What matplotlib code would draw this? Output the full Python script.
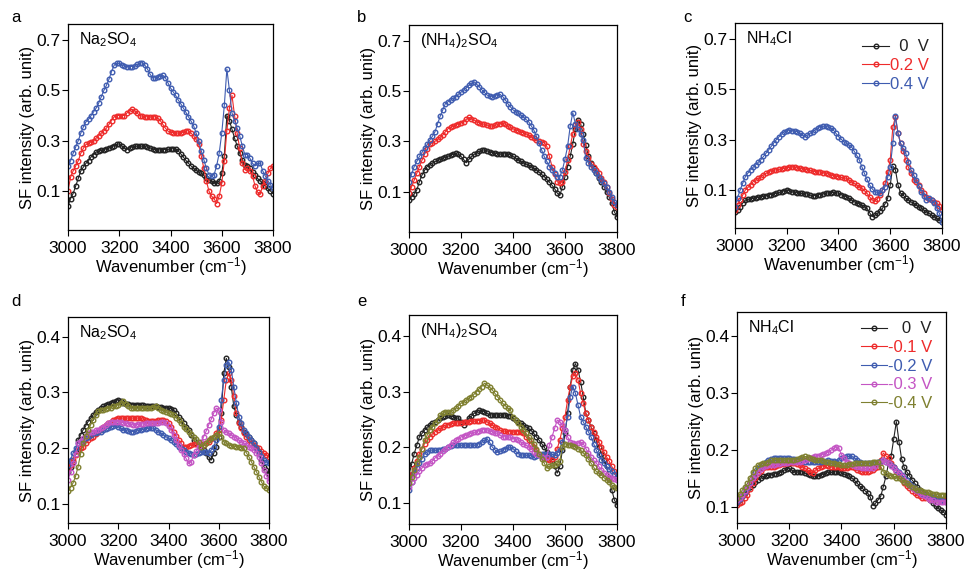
import numpy as np
import matplotlib
matplotlib.use("Agg")
import matplotlib.pyplot as plt

plt.rcParams['font.family'] = ['Liberation Sans', 'DejaVu Sans']
plt.rcParams['mathtext.fontset'] = 'custom'
plt.rcParams['mathtext.rm'] = 'Liberation Sans'
plt.rcParams['mathtext.it'] = 'Liberation Sans'

# wavenumber grid (cm-1)
wavenumber = np.arange(3000, 3801, 10)

# ---------------- panel a : Na2SO4, positive potentials ----------------
a_0V = [0.04, 0.07, 0.09, 0.12, 0.15, 0.18, 0.195, 0.21, 0.22, 0.235,
        0.245, 0.255, 0.258, 0.262, 0.265, 0.268, 0.272, 0.276, 0.28, 0.285,
        0.287, 0.28, 0.27, 0.265, 0.272, 0.275, 0.277, 0.278, 0.278, 0.278,
        0.277, 0.275, 0.272, 0.268, 0.264, 0.263, 0.263, 0.264, 0.265, 0.266,
        0.267, 0.268, 0.268, 0.26, 0.248, 0.235, 0.222, 0.21, 0.2, 0.19,
        0.182, 0.176, 0.17, 0.162, 0.152, 0.145, 0.14, 0.132, 0.13, 0.14,
        0.17, 0.24, 0.4, 0.38, 0.345, 0.31, 0.28, 0.25, 0.225, 0.205,
        0.2, 0.19, 0.175, 0.165, 0.15, 0.14, 0.13, 0.12, 0.11, 0.1,
        0.09]
a_02V = [0.10, 0.155, 0.18, 0.20, 0.22, 0.25, 0.27, 0.285, 0.29, 0.295,
         0.30, 0.31, 0.32, 0.33, 0.34, 0.35, 0.365, 0.38, 0.395, 0.40,
         0.40, 0.40, 0.40, 0.41, 0.42, 0.425, 0.42, 0.41, 0.40, 0.397,
         0.395, 0.395, 0.395, 0.395, 0.395, 0.39, 0.38, 0.365, 0.35, 0.338,
         0.335, 0.332, 0.33, 0.33, 0.33, 0.335, 0.338, 0.34, 0.33, 0.32,
         0.305, 0.285, 0.24, 0.19, 0.14, 0.10, 0.08, 0.07, 0.05, 0.08,
         0.13, 0.22, 0.34, 0.43, 0.48, 0.40, 0.33, 0.27, 0.21, 0.185,
         0.19, 0.18, 0.16, 0.12, 0.095, 0.09, 0.12, 0.14, 0.17, 0.19,
         0.20]
a_04V = [0.20, 0.22, 0.25, 0.275, 0.30, 0.33, 0.355, 0.375, 0.385, 0.40,
         0.415, 0.43, 0.45, 0.475, 0.50, 0.52, 0.545, 0.575, 0.60, 0.608,
         0.607, 0.60, 0.597, 0.595, 0.595, 0.595, 0.597, 0.603, 0.608, 0.61,
         0.60, 0.585, 0.565, 0.55, 0.55, 0.553, 0.558, 0.56, 0.55, 0.53,
         0.51, 0.495, 0.48, 0.462, 0.447, 0.43, 0.413, 0.395, 0.378, 0.36,
         0.33, 0.30, 0.26, 0.225, 0.19, 0.165, 0.16, 0.165, 0.20, 0.25,
         0.33, 0.44, 0.585, 0.50, 0.41, 0.38, 0.35, 0.32, 0.28, 0.245,
         0.245, 0.23, 0.21, 0.20, 0.21, 0.21, 0.18, 0.16, 0.14, 0.125,
         0.11]

# ---------------- panel b : (NH4)2SO4, positive potentials ----------------
b_0V = [0.067, 0.08, 0.09, 0.107, 0.14, 0.166, 0.185, 0.2, 0.207, 0.214,
        0.22, 0.224, 0.228, 0.232, 0.237, 0.241, 0.246, 0.249, 0.252, 0.248,
        0.24, 0.228, 0.215, 0.228, 0.24, 0.248, 0.255, 0.26, 0.264, 0.266,
        0.263, 0.259, 0.255, 0.253, 0.251, 0.25, 0.25, 0.25, 0.25, 0.246,
        0.24, 0.233, 0.226, 0.22, 0.215, 0.21, 0.206, 0.2, 0.193, 0.186,
        0.178, 0.169, 0.16, 0.149, 0.138, 0.126, 0.112, 0.095, 0.085, 0.12,
        0.16, 0.2, 0.24, 0.29, 0.35, 0.385, 0.37, 0.33, 0.285, 0.24,
        0.215, 0.193, 0.173, 0.155, 0.138, 0.12, 0.1, 0.078, 0.054, 0.02,
        0.0]
b_02V = [0.093, 0.12, 0.146, 0.173, 0.2, 0.225, 0.25, 0.27, 0.29, 0.295,
         0.30, 0.308, 0.317, 0.325, 0.338, 0.35, 0.355, 0.36, 0.365, 0.37,
         0.374, 0.378, 0.387, 0.395, 0.39, 0.385, 0.378, 0.374, 0.37, 0.367,
         0.365, 0.362, 0.36, 0.363, 0.367, 0.37, 0.374, 0.368, 0.36, 0.355,
         0.35, 0.346, 0.342, 0.338, 0.334, 0.33, 0.325, 0.318, 0.312, 0.305,
         0.30, 0.297, 0.295, 0.28, 0.24, 0.2, 0.17, 0.14, 0.135, 0.14,
         0.18, 0.225, 0.28, 0.33, 0.365, 0.375, 0.35, 0.29, 0.26, 0.235,
         0.21, 0.197, 0.185, 0.173, 0.155, 0.138, 0.12, 0.095, 0.07, 0.047,
         0.04]
b_04V = [0.14, 0.17, 0.2, 0.22, 0.24, 0.256, 0.272, 0.288, 0.305, 0.32,
         0.338, 0.37, 0.40, 0.425, 0.45, 0.457, 0.464, 0.471, 0.478, 0.487,
         0.495, 0.504, 0.513, 0.522, 0.53, 0.537, 0.527, 0.517, 0.505, 0.494,
         0.484, 0.481, 0.478, 0.482, 0.485, 0.487, 0.478, 0.465, 0.45, 0.437,
         0.425, 0.418, 0.411, 0.405, 0.396, 0.387, 0.378, 0.362, 0.345, 0.32,
         0.292, 0.266, 0.24, 0.22, 0.2, 0.186, 0.173, 0.16, 0.16, 0.186,
         0.23, 0.28, 0.36, 0.414, 0.37, 0.35, 0.33, 0.305, 0.232, 0.215,
         0.2, 0.187, 0.173, 0.16, 0.147, 0.133, 0.12, 0.1, 0.08, 0.06,
         0.047]

# ---------------- panel c : NH4Cl, positive potentials ----------------
c_0V = [0.014, 0.02, 0.034, 0.048, 0.06, 0.063, 0.065, 0.067, 0.069, 0.071,
        0.073, 0.075, 0.078, 0.08, 0.082, 0.085, 0.087, 0.09, 0.093, 0.097,
        0.10, 0.097, 0.093, 0.091, 0.089, 0.087, 0.086, 0.085, 0.084, 0.08,
        0.076, 0.078, 0.08, 0.082, 0.085, 0.087, 0.088, 0.089, 0.09, 0.089,
        0.087, 0.082, 0.078, 0.073, 0.067, 0.06, 0.054, 0.05, 0.045, 0.04,
        0.034, 0.027, 0.01, -0.006, 0.0, 0.007, 0.017, 0.027, 0.045, 0.067,
        0.12, 0.195, 0.18, 0.12, 0.087, 0.08, 0.067, 0.06, 0.053, 0.047,
        0.04, 0.033, 0.027, 0.02, 0.014, 0.007, 0.0, -0.006, -0.013, -0.02,
        -0.026]
c_02V = [0.02, 0.04, 0.06, 0.08, 0.10, 0.11, 0.12, 0.133, 0.14, 0.146,
         0.153, 0.16, 0.166, 0.173, 0.176, 0.178, 0.18, 0.182, 0.184, 0.186,
         0.188, 0.19, 0.193, 0.19, 0.188, 0.186, 0.184, 0.182, 0.18, 0.178,
         0.175, 0.173, 0.172, 0.171, 0.169, 0.167, 0.164, 0.16, 0.157, 0.155,
         0.153, 0.15, 0.148, 0.146, 0.14, 0.133, 0.126, 0.12, 0.113, 0.107,
         0.097, 0.087, 0.073, 0.06, 0.058, 0.065, 0.08, 0.1, 0.126, 0.17,
         0.22, 0.35, 0.39, 0.325, 0.285, 0.255, 0.22, 0.19, 0.166, 0.14,
         0.133, 0.118, 0.1, 0.087, 0.073, 0.066, 0.06, 0.053, 0.047, 0.035,
         0.02]
c_04V = [0.034, 0.07, 0.10, 0.127, 0.153, 0.167, 0.18, 0.19, 0.20, 0.21,
         0.22, 0.233, 0.246, 0.259, 0.273, 0.287, 0.30, 0.311, 0.322, 0.332,
         0.335, 0.338, 0.336, 0.334, 0.332, 0.325, 0.318, 0.312, 0.318, 0.325,
         0.332, 0.339, 0.346, 0.352, 0.353, 0.354, 0.35, 0.345, 0.338, 0.325,
         0.312, 0.302, 0.292, 0.285, 0.279, 0.272, 0.255, 0.238, 0.22, 0.193,
         0.166, 0.143, 0.12, 0.105, 0.093, 0.09, 0.087, 0.1, 0.113, 0.15,
         0.193, 0.285, 0.394, 0.325, 0.285, 0.265, 0.246, 0.21, 0.18, 0.16,
         0.14, 0.117, 0.093, 0.075, 0.06, 0.067, 0.06, 0.047, 0.027, 0.007,
         -0.026]

# ---------------- panel d : Na2SO4, negative potentials ----------------
d_0V = [0.158, 0.167, 0.176, 0.195, 0.215, 0.224, 0.233, 0.24, 0.248, 0.254,
        0.26, 0.265, 0.269, 0.272, 0.275, 0.277, 0.279, 0.281, 0.283, 0.285,
        0.287, 0.284, 0.281, 0.28, 0.279, 0.278, 0.278, 0.278, 0.278, 0.277,
        0.277, 0.276, 0.276, 0.275, 0.275, 0.275, 0.274, 0.274, 0.273, 0.273,
        0.272, 0.271, 0.269, 0.263, 0.257, 0.251, 0.245, 0.239, 0.233, 0.224,
        0.215, 0.21, 0.206, 0.201, 0.197, 0.191, 0.185, 0.179, 0.191, 0.203,
        0.221, 0.263, 0.334, 0.361, 0.346, 0.31, 0.275, 0.26, 0.248, 0.239,
        0.23, 0.226, 0.221, 0.215, 0.209, 0.2, 0.191, 0.179, 0.167, 0.161,
        0.155]
d_m01V = [0.164, 0.171, 0.179, 0.188, 0.197, 0.2, 0.203, 0.209, 0.215, 0.218,
          0.221, 0.226, 0.23, 0.235, 0.239, 0.242, 0.245, 0.248, 0.251, 0.253,
          0.254, 0.254, 0.254, 0.254, 0.254, 0.254, 0.254, 0.254, 0.254, 0.254,
          0.252, 0.25, 0.249, 0.249, 0.249, 0.249, 0.25, 0.25, 0.251, 0.249,
          0.245, 0.238, 0.23, 0.222, 0.215, 0.209, 0.203, 0.203, 0.204, 0.206,
          0.207, 0.208, 0.208, 0.207, 0.206, 0.209, 0.212, 0.217, 0.221, 0.227,
          0.233, 0.251, 0.287, 0.322, 0.334, 0.322, 0.293, 0.263, 0.245, 0.236,
          0.227, 0.221, 0.215, 0.21, 0.206, 0.203, 0.2, 0.195, 0.191, 0.188,
          0.185]
d_m02V = [0.17, 0.18, 0.191, 0.2, 0.209, 0.212, 0.215, 0.218, 0.221, 0.224,
          0.227, 0.228, 0.229, 0.23, 0.232, 0.234, 0.236, 0.238, 0.24, 0.242,
          0.239, 0.236, 0.233, 0.232, 0.231, 0.23, 0.23, 0.231, 0.232, 0.233,
          0.234, 0.235, 0.236, 0.236, 0.236, 0.233, 0.23, 0.227, 0.224, 0.221,
          0.218, 0.215, 0.212, 0.207, 0.203, 0.2, 0.197, 0.194, 0.191, 0.19,
          0.189, 0.19, 0.191, 0.193, 0.194, 0.193, 0.192, 0.197, 0.203, 0.215,
          0.239, 0.287, 0.322, 0.349, 0.355, 0.34, 0.31, 0.281, 0.257, 0.245,
          0.233, 0.227, 0.221, 0.215, 0.209, 0.201, 0.194, 0.186, 0.179, 0.176,
          0.173]
d_m03V = [0.144, 0.158, 0.173, 0.19, 0.209, 0.214, 0.218, 0.223, 0.227, 0.229,
          0.23, 0.232, 0.233, 0.236, 0.239, 0.242, 0.245, 0.247, 0.248, 0.248,
          0.248, 0.247, 0.246, 0.245, 0.244, 0.243, 0.242, 0.242, 0.243, 0.243,
          0.244, 0.245, 0.245, 0.245, 0.245, 0.245, 0.246, 0.248, 0.247, 0.245,
          0.24, 0.233, 0.224, 0.215, 0.206, 0.197, 0.19, 0.182, 0.173, 0.176,
          0.188, 0.195, 0.203, 0.212, 0.221, 0.231, 0.242, 0.252, 0.263, 0.272,
          0.269, 0.248, 0.233, 0.23, 0.227, 0.224, 0.221, 0.218, 0.215, 0.212,
          0.209, 0.206, 0.203, 0.2, 0.197, 0.191, 0.185, 0.173, 0.161, 0.151,
          0.141]
d_m04V = [0.123, 0.13, 0.138, 0.15, 0.167, 0.19, 0.209, 0.222, 0.233, 0.242,
          0.251, 0.259, 0.266, 0.268, 0.269, 0.27, 0.272, 0.273, 0.275, 0.276,
          0.278, 0.281, 0.284, 0.28, 0.275, 0.273, 0.272, 0.272, 0.272, 0.272,
          0.272, 0.272, 0.272, 0.273, 0.274, 0.275, 0.272, 0.269, 0.267, 0.265,
          0.263, 0.261, 0.26, 0.255, 0.251, 0.245, 0.239, 0.234, 0.23, 0.225,
          0.221, 0.216, 0.212, 0.203, 0.206, 0.21, 0.215, 0.218, 0.221, 0.224,
          0.227, 0.221, 0.212, 0.209, 0.206, 0.205, 0.204, 0.203, 0.203, 0.201,
          0.2, 0.192, 0.185, 0.176, 0.167, 0.158, 0.149, 0.14, 0.132, 0.129,
          0.126]

# ---------------- panel e : (NH4)2SO4, negative potentials ----------------
e_0V = [0.151, 0.17, 0.189, 0.204, 0.219, 0.225, 0.231, 0.236, 0.24, 0.243,
        0.246, 0.249, 0.252, 0.255, 0.257, 0.258, 0.256, 0.255, 0.253, 0.252,
        0.246, 0.24, 0.246, 0.252, 0.256, 0.261, 0.264, 0.267, 0.266, 0.264,
        0.261, 0.258, 0.258, 0.258, 0.258, 0.258, 0.258, 0.258, 0.257, 0.256,
        0.252, 0.249, 0.246, 0.243, 0.24, 0.237, 0.234, 0.23, 0.225, 0.219,
        0.213, 0.207, 0.201, 0.192, 0.183, 0.175, 0.166, 0.154, 0.166, 0.195,
        0.225, 0.261, 0.309, 0.339, 0.35, 0.339, 0.318, 0.291, 0.261, 0.249,
        0.237, 0.225, 0.213, 0.201, 0.189, 0.178, 0.166, 0.145, 0.124, 0.106,
        0.097]
e_m01V = [0.142, 0.152, 0.163, 0.176, 0.189, 0.198, 0.207, 0.213, 0.219, 0.224,
          0.228, 0.231, 0.234, 0.237, 0.24, 0.241, 0.242, 0.243, 0.243, 0.244,
          0.244, 0.245, 0.245, 0.246, 0.247, 0.247, 0.248, 0.248, 0.249, 0.249,
          0.246, 0.243, 0.24, 0.237, 0.234, 0.231, 0.229, 0.229, 0.228, 0.228,
          0.228, 0.228, 0.228, 0.227, 0.225, 0.219, 0.213, 0.207, 0.201, 0.195,
          0.189, 0.185, 0.181, 0.179, 0.178, 0.18, 0.183, 0.198, 0.213, 0.234,
          0.255, 0.285, 0.309, 0.327, 0.333, 0.321, 0.297, 0.279, 0.261, 0.249,
          0.237, 0.228, 0.219, 0.21, 0.201, 0.192, 0.183, 0.175, 0.166, 0.157,
          0.148]
e_m02V = [0.124, 0.139, 0.154, 0.163, 0.172, 0.18, 0.189, 0.192, 0.195, 0.195,
          0.195, 0.195, 0.196, 0.197, 0.198, 0.2, 0.202, 0.204, 0.204, 0.204,
          0.204, 0.204, 0.204, 0.204, 0.204, 0.204, 0.205, 0.207, 0.21, 0.213,
          0.216, 0.209, 0.201, 0.196, 0.192, 0.193, 0.195, 0.198, 0.201, 0.2,
          0.198, 0.193, 0.189, 0.187, 0.186, 0.186, 0.186, 0.185, 0.183, 0.185,
          0.186, 0.188, 0.189, 0.189, 0.189, 0.188, 0.186, 0.19, 0.195, 0.21,
          0.231, 0.255, 0.291, 0.309, 0.297, 0.276, 0.255, 0.246, 0.237, 0.228,
          0.219, 0.207, 0.195, 0.186, 0.178, 0.172, 0.166, 0.161, 0.157, 0.152,
          0.148]
e_m03V = [0.13, 0.138, 0.145, 0.151, 0.157, 0.163, 0.169, 0.171, 0.172, 0.176,
          0.181, 0.185, 0.189, 0.193, 0.198, 0.201, 0.204, 0.209, 0.213, 0.216,
          0.219, 0.221, 0.222, 0.224, 0.225, 0.227, 0.228, 0.23, 0.231, 0.232,
          0.232, 0.23, 0.228, 0.226, 0.225, 0.222, 0.219, 0.219, 0.219, 0.218,
          0.216, 0.215, 0.213, 0.21, 0.207, 0.204, 0.201, 0.197, 0.192, 0.189,
          0.186, 0.183, 0.18, 0.183, 0.204, 0.219, 0.234, 0.249, 0.246, 0.24,
          0.231, 0.219, 0.21, 0.208, 0.206, 0.208, 0.21, 0.207, 0.198, 0.19,
          0.183, 0.177, 0.172, 0.166, 0.16, 0.155, 0.151, 0.148, 0.145, 0.143,
          0.142]
e_m04V = [0.136, 0.148, 0.16, 0.172, 0.183, 0.198, 0.213, 0.222, 0.231, 0.237,
          0.243, 0.25, 0.258, 0.261, 0.264, 0.264, 0.264, 0.267, 0.27, 0.275,
          0.279, 0.282, 0.285, 0.288, 0.291, 0.295, 0.3, 0.305, 0.309, 0.315,
          0.312, 0.308, 0.303, 0.297, 0.291, 0.285, 0.279, 0.275, 0.27, 0.267,
          0.255, 0.249, 0.243, 0.237, 0.231, 0.225, 0.219, 0.213, 0.207, 0.198,
          0.189, 0.18, 0.172, 0.163, 0.166, 0.168, 0.169, 0.172, 0.175, 0.201,
          0.207, 0.205, 0.204, 0.203, 0.201, 0.198, 0.195, 0.19, 0.186, 0.179,
          0.172, 0.165, 0.157, 0.154, 0.151, 0.146, 0.142, 0.138, 0.133, 0.13,
          0.127]

# ---------------- panel f : NH4Cl, negative potentials ----------------
f_0V = [0.107, 0.113, 0.119, 0.125, 0.13, 0.135, 0.139, 0.144, 0.148, 0.151,
        0.154, 0.155, 0.156, 0.157, 0.158, 0.159, 0.16, 0.162, 0.165, 0.167,
        0.168, 0.165, 0.162, 0.162, 0.162, 0.162, 0.16, 0.158, 0.157, 0.155,
        0.154, 0.155, 0.157, 0.158, 0.16, 0.161, 0.161, 0.162, 0.162, 0.161,
        0.16, 0.158, 0.157, 0.154, 0.151, 0.147, 0.142, 0.137, 0.133, 0.129,
        0.125, 0.118, 0.103, 0.107, 0.113, 0.119, 0.136, 0.154, 0.177, 0.19,
        0.22, 0.25, 0.215, 0.185, 0.17, 0.162, 0.155, 0.148, 0.142, 0.136,
        0.131, 0.127, 0.123, 0.119, 0.113, 0.107, 0.102, 0.098, 0.095, 0.092,
        0.087]
f_m01V = [0.104, 0.107, 0.11, 0.116, 0.122, 0.132, 0.142, 0.151, 0.16, 0.164,
          0.168, 0.17, 0.171, 0.171, 0.171, 0.173, 0.174, 0.175, 0.176, 0.177,
          0.177, 0.177, 0.177, 0.176, 0.174, 0.171, 0.168, 0.165, 0.162, 0.16,
          0.165, 0.168, 0.171, 0.173, 0.174, 0.173, 0.171, 0.171, 0.171, 0.17,
          0.168, 0.168, 0.168, 0.17, 0.171, 0.168, 0.165, 0.164, 0.162, 0.162,
          0.162, 0.164, 0.165, 0.168, 0.171, 0.183, 0.195, 0.19, 0.186, 0.178,
          0.171, 0.164, 0.157, 0.15, 0.142, 0.137, 0.133, 0.129, 0.125, 0.122,
          0.119, 0.117, 0.116, 0.116, 0.116, 0.115, 0.114, 0.114, 0.113, 0.113,
          0.113]
f_m02V = [0.11, 0.115, 0.119, 0.126, 0.133, 0.144, 0.154, 0.161, 0.168, 0.171,
          0.174, 0.179, 0.183, 0.185, 0.186, 0.186, 0.186, 0.186, 0.186, 0.186,
          0.186, 0.185, 0.184, 0.183, 0.182, 0.181, 0.18, 0.18, 0.18, 0.18,
          0.18, 0.18, 0.18, 0.181, 0.181, 0.182, 0.181, 0.181, 0.18, 0.183,
          0.186, 0.188, 0.189, 0.189, 0.189, 0.186, 0.183, 0.18, 0.177, 0.177,
          0.177, 0.177, 0.177, 0.178, 0.18, 0.181, 0.183, 0.18, 0.177, 0.174,
          0.171, 0.166, 0.162, 0.157, 0.151, 0.147, 0.142, 0.138, 0.133, 0.13,
          0.127, 0.124, 0.122, 0.12, 0.119, 0.118, 0.116, 0.114, 0.113, 0.111,
          0.11]
f_m03V = [0.113, 0.117, 0.122, 0.129, 0.136, 0.143, 0.151, 0.157, 0.162, 0.167,
          0.171, 0.173, 0.174, 0.174, 0.174, 0.175, 0.176, 0.177, 0.177, 0.178,
          0.18, 0.18, 0.18, 0.18, 0.18, 0.181, 0.183, 0.185, 0.186, 0.188,
          0.189, 0.19, 0.192, 0.193, 0.195, 0.197, 0.2, 0.203, 0.206, 0.203,
          0.192, 0.186, 0.18, 0.177, 0.174, 0.172, 0.171, 0.17, 0.168, 0.168,
          0.168, 0.168, 0.168, 0.172, 0.177, 0.18, 0.183, 0.18, 0.177, 0.172,
          0.168, 0.164, 0.16, 0.154, 0.148, 0.143, 0.139, 0.134, 0.13, 0.128,
          0.125, 0.122, 0.119, 0.116, 0.113, 0.112, 0.11, 0.11, 0.11, 0.11,
          0.11]
f_m04V = [0.116, 0.123, 0.13, 0.136, 0.142, 0.152, 0.162, 0.168, 0.174, 0.176,
          0.177, 0.178, 0.18, 0.182, 0.183, 0.183, 0.183, 0.183, 0.183, 0.183,
          0.183, 0.183, 0.183, 0.184, 0.186, 0.188, 0.189, 0.188, 0.186, 0.184,
          0.183, 0.183, 0.182, 0.181, 0.18, 0.179, 0.178, 0.177, 0.176, 0.175,
          0.174, 0.174, 0.174, 0.175, 0.176, 0.177, 0.177, 0.178, 0.178, 0.178,
          0.178, 0.178, 0.179, 0.18, 0.18, 0.171, 0.162, 0.16, 0.157, 0.155,
          0.154, 0.152, 0.151, 0.148, 0.145, 0.142, 0.139, 0.136, 0.133, 0.131,
          0.13, 0.128, 0.127, 0.126, 0.125, 0.124, 0.123, 0.122, 0.122, 0.122,
          0.122]

salts = ['Na$_2$SO$_4$', '(NH$_4$)$_2$SO$_4$', 'NH$_4$Cl']
panel_letters = ['a', 'b', 'c', 'd', 'e', 'f']
pos_labels = ['  0  V', '0.2 V', '0.4 V']
neg_labels = ['   0  V', '-0.1 V', '-0.2 V', '-0.3 V', '-0.4 V']
pos_colors = ['#222222', '#ee2b2b', '#3f5cb0']
neg_colors = ['#222222', '#ee2b2b', '#3f5cb0', '#c455c4', '#7f8030']

top_series = [[a_0V, a_02V, a_04V], [b_0V, b_02V, b_04V], [c_0V, c_02V, c_04V]]
bot_series = [[d_0V, d_m01V, d_m02V, d_m03V, d_m04V],
              [e_0V, e_m01V, e_m02V, e_m03V, e_m04V],
              [f_0V, f_m01V, f_m02V, f_m03V, f_m04V]]

W, H = 969, 573
fig = plt.figure(figsize=(W / 100, H / 100), dpi=100)

# axes boxes in pixels: left, right, top, bottom
boxes = [(68, 273, 24, 230), (409, 617, 25, 232), (735, 942, 23, 228),
         (68, 269, 317, 523), (409, 617, 315, 524), (737, 946, 312, 523)]
ylims = [(-0.055, 0.764), (-0.06, 0.762), (-0.051, 0.763),
         (0.0665, 0.435), (0.063, 0.437), (0.0725, 0.442)]
letter_pos = [(16, 18), (362, 18), (687, 18), (16, 302), (362, 302), (683, 302)]
legend_anchor = {2: (0.935, 0.92), 5: (0.935, 0.955)}

tick_fs = 12.5
lab_fs = 12
for i in range(6):
    l, r, t, b = boxes[i]
    ax = fig.add_axes([l / W, 1 - b / H, (r - l) / W, (b - t) / H])
    top = i < 3
    series = top_series[i] if top else bot_series[i - 3]
    colors = pos_colors if top else neg_colors
    labels = pos_labels if top else neg_labels
    for vals, col, lab in zip(series, colors, labels):
        ax.plot(wavenumber, vals, '-', color=col, lw=0.8, marker='o',
                ms=3.3, mfc='none', mec=col, mew=1.0, label=lab)
    ax.set_xlim(3000, 3800)
    ax.set_ylim(*ylims[i])
    ax.set_xticks([3000, 3200, 3400, 3600, 3800])
    if top:
        ax.set_yticks([0.1, 0.3, 0.5, 0.7])
    else:
        ax.set_yticks([0.1, 0.2, 0.3, 0.4])
    ax.tick_params(direction='out', length=4, width=0.8, labelsize=tick_fs,
                   top=False, right=False)
    ax.tick_params(axis='x', pad=4)
    ax.tick_params(axis='y', pad=1.5)
    for sp in ax.spines.values():
        sp.set_linewidth(0.9)
    ax.set_xlabel('Wavenumber (cm$^{-1}$)', fontsize=lab_fs, labelpad=-0.5)
    ax.set_ylabel('SF intensity (arb. unit)', fontsize=lab_fs, labelpad=1)
    ax.text(0.055, 0.925, salts[i % 3], transform=ax.transAxes, fontsize=11.5,
            ha='left', va='center')
    fig.text(letter_pos[i][0] / W, 1 - letter_pos[i][1] / H, panel_letters[i],
             fontsize=12, ha='center', va='center')
    if i in legend_anchor:
        leg = ax.legend(loc='upper right', bbox_to_anchor=legend_anchor[i],
                        frameon=False, fontsize=12,
                        handlelength=1.6, handletextpad=0.05, labelspacing=0.22,
                        borderaxespad=0.0, borderpad=0.0)
        for txt, col in zip(leg.get_texts(), colors):
            txt.set_color(col)

fig.savefig('out.png', dpi=100)
